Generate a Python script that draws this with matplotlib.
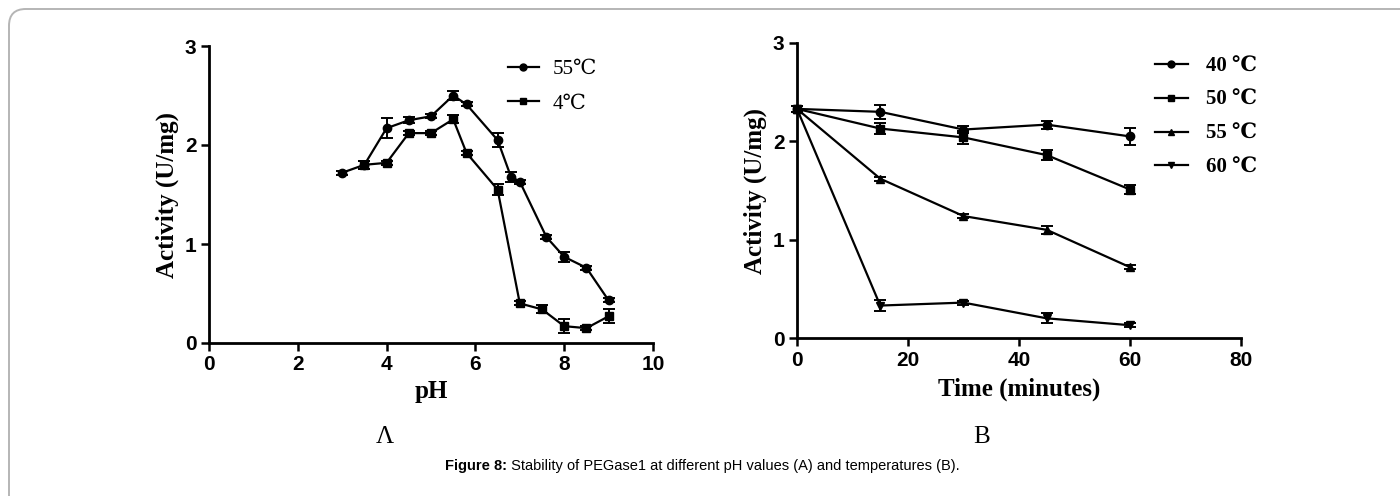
import numpy as np
import matplotlib
matplotlib.use("Agg")
import matplotlib.pyplot as plt
from matplotlib.patches import FancyBboxPatch
from matplotlib.lines import Line2D
from matplotlib import font_manager

# Panel A: activity vs pH
ph_55 = [3.0, 3.5, 4.0, 4.5, 5.0, 5.5, 5.8, 6.5, 6.8, 7.0, 7.6, 8.0, 8.5, 9.0]
act_55 = [1.72, 1.80, 2.17, 2.25, 2.29, 2.50, 2.41, 2.05, 1.68, 1.63, 1.07, 0.87, 0.76, 0.43]
err_55 = [0.02, 0.04, 0.10, 0.03, 0.02, 0.05, 0.02, 0.07, 0.05, 0.02, 0.02, 0.05, 0.02, 0.02]

ph_4 = [3.5, 4.0, 4.5, 5.0, 5.5, 5.8, 6.5, 7.0, 7.5, 8.0, 8.5, 9.0]
act_4 = [1.80, 1.82, 2.12, 2.12, 2.26, 1.92, 1.55, 0.40, 0.34, 0.17, 0.15, 0.27]
err_4 = [0.04, 0.02, 0.02, 0.02, 0.04, 0.02, 0.06, 0.02, 0.04, 0.07, 0.02, 0.07]

# Panel B: activity vs time at different temperatures
time_min = [0, 15, 30, 45, 60]
act_40 = [2.33, 2.30, 2.12, 2.17, 2.05]
err_40 = [0.03, 0.07, 0.04, 0.04, 0.09]
act_50 = [2.33, 2.13, 2.04, 1.86, 1.51]
err_50 = [0.03, 0.06, 0.07, 0.05, 0.05]
act_55b = [2.33, 1.62, 1.24, 1.10, 0.72]
err_55b = [0.03, 0.02, 0.02, 0.04, 0.02]
act_60 = [2.33, 0.33, 0.36, 0.20, 0.13]
err_60 = [0.03, 0.06, 0.02, 0.05, 0.02]

W, H = 1400, 496
fig = plt.figure(figsize=(W / 100, H / 100), dpi=100)

serif = ["Liberation Serif", "DejaVu Serif"]
installed = {f.name for f in font_manager.fontManager.ttflist}
tick_family = "Liberation Sans Narrow" if "Liberation Sans Narrow" in installed else "Liberation Sans"
tick_font = {"family": tick_family, "weight": "bold", "size": 15}
label_size = 18


def px_axes(x0, y_top, x1, y_bot):
    return fig.add_axes([x0 / W, 1 - y_bot / H, (x1 - x0) / W, (y_bot - y_top) / H])


def style_axes(ax):
    for s in ("top", "right"):
        ax.spines[s].set_visible(False)
    for s in ("left", "bottom"):
        ax.spines[s].set_linewidth(2.0)
    ax.tick_params(width=1.8, length=6, direction="out", pad=3)
    for lab in ax.get_xticklabels() + ax.get_yticklabels():
        lab.set_fontproperties(tick_font)
    ax.patch.set_alpha(0)


def series(ax, x, y, e, marker, ms):
    ax.errorbar(x, y, yerr=e, color="black", marker=marker, markersize=ms,
                linewidth=1.6, elinewidth=1.4, capsize=4, capthick=1.4,
                clip_on=False)
    return Line2D([], [], color="black", marker=marker, markersize=ms - 1, linewidth=1.6)


# Panel A
ax1 = px_axes(209, 46, 653, 343)
h1 = [series(ax1, ph_55, act_55, err_55, "o", 6),
      series(ax1, ph_4, act_4, err_4, "s", 6)]
ax1.set_xlim(0, 10)
ax1.set_ylim(0, 3)
ax1.set_xticks([0, 2, 4, 6, 8, 10])
ax1.set_yticks([0, 1, 2, 3])
style_axes(ax1)
ax1.set_xlabel("pH", family=serif, weight="bold", size=label_size, labelpad=4)
ax1.set_ylabel("Activity (U/mg)", family=serif, weight="bold", size=label_size, labelpad=4)
ax1.legend(h1, ["55℃", "4℃"], loc="upper left", bbox_to_anchor=(489 / W, 1 - 41 / H),
           bbox_transform=fig.transFigure, frameon=False, handlelength=1.5,
           handletextpad=0.65, labelspacing=0.7,
           prop={"family": serif, "size": 15})

# Panel B
ax2 = px_axes(797, 43, 1241, 338)
h2 = [series(ax2, time_min, act_40, err_40, "o", 6),
      series(ax2, time_min, act_50, err_50, "s", 6),
      series(ax2, time_min, act_55b, err_55b, "^", 6),
      series(ax2, time_min, act_60, err_60, "v", 6)]
ax2.set_xlim(0, 80)
ax2.set_ylim(0, 3)
ax2.set_xticks([0, 20, 40, 60, 80])
ax2.set_yticks([0, 1, 2, 3])
style_axes(ax2)
ax2.set_xlabel("Time (minutes)", family=serif, weight="bold", size=label_size, labelpad=6)
ax2.set_ylabel("Activity (U/mg)", family=serif, weight="bold", size=label_size, labelpad=4)
ax2.legend(h2, ["40 ℃", "50 ℃", "55 ℃", "60 ℃"], loc="upper left",
           bbox_to_anchor=(1136 / W, 1 - 38 / H),
           bbox_transform=fig.transFigure, frameon=False, handlelength=1.6,
           handletextpad=0.85, labelspacing=0.65,
           prop={"family": serif, "size": 15, "weight": "bold"})

# panel letters
fig.text(385 / W, 1 - 437 / H, "Λ", family=serif, size=18, ha="center", va="center")
fig.text(982 / W, 1 - 437 / H, "B", family=serif, size=18, ha="center", va="center")

# caption
cap_y = 1 - 466 / H
t1 = fig.text(0, cap_y, "Figure 8:", family="Liberation Sans", weight="bold", size=10.5,
              va="center")
t2 = fig.text(0, cap_y, " Stability of PEGase1 at different pH values (A) and temperatures (B).",
              family="Liberation Sans", size=10.5, va="center")
fig.canvas.draw()
r = fig.canvas.get_renderer()
w1 = t1.get_window_extent(r).width
w2 = t2.get_window_extent(r).width
x_start = (W - (w1 + w2)) / 2 + 2
t1.set_x(x_start / W)
t2.set_x((x_start + w1) / W)

# outer frame (only top and left edges fall inside the image)
frame = FancyBboxPatch((9 / W, -0.2), 1.3, (1 - 9 / H) + 0.2,
                       boxstyle="round,pad=0,rounding_size=0.012",
                       transform=fig.transFigure, fill=False,
                       edgecolor="#b5b5b5", linewidth=1.4, mutation_aspect=W / H)
fig.patches.append(frame)

fig.savefig("out.png", dpi=100)
